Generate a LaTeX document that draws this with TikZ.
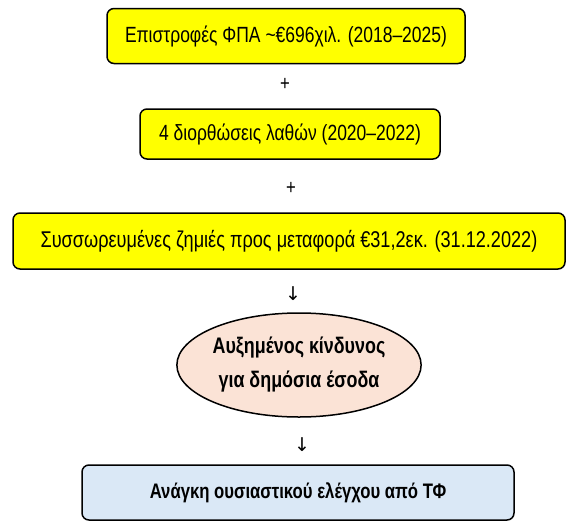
\documentclass[tikz,border=0pt]{standalone}
\usepackage{fontspec}
\setmainfont{Liberation Sans}[FakeStretch=0.795]
\newfontfamily\symfont{DejaVu Sans}
\usetikzlibrary{shapes.geometric}
\definecolor{yel}{HTML}{FFFF00}
\definecolor{peach}{HTML}{FBE3D6}
\definecolor{lblue}{HTML}{DAE8F6}
\begin{document}
\begin{tikzpicture}[x=1pt,y=-1pt,
  boxbase/.style={draw=black, line width=1.5pt, rounded corners=7pt, inner sep=0pt, align=center},
  ybox/.style={boxbase, fill=yel, font=\fontsize{22}{26}\selectfont},
  bbox/.style={boxbase, fill=lblue, font=\bfseries\fontsize{21}{25}\selectfont},
  oval/.style={ellipse, draw=black, line width=1.5pt, fill=peach, inner sep=0pt, align=center, font=\bfseries\fontsize{22.5}{34}\selectfont},
  sym/.style={inner sep=0pt, font=\fontsize{21}{24}\selectfont},
  arr/.style={inner sep=0pt, font=\symfont\fontsize{19}{22}\selectfont}]
\useasboundingbox (0,0) rectangle (567,522);
\node[ybox, minimum width=358pt, minimum height=55pt] (a) at (286,36) {Επιστροφές ΦΠΑ \textasciitilde€696χιλ. (2018–2025)};
\node[sym] (p1) at (285,84) {+};
\node[ybox, minimum width=300pt, minimum height=50pt] (b) at (290,134) {4 διορθώσεις λαθών (2020–2022)};
\node[sym] (p2) at (291,188) {+};
\node[ybox, minimum width=552pt, minimum height=56pt, font=\fontsize{22.8}{26}\selectfont] (c) at (289,241) {Συσσωρευμένες ζημιές προς μεταφορά €31,2εκ. (31.12.2022)};
\node[arr] (d1) at (293,294) {↓};
\node[oval, minimum width=238pt, minimum height=104pt] (e) at (299,365) {\raisebox{-3pt}{Αυξημένος κίνδυνος}\\\raisebox{-3pt}{για δημόσια έσοδα}};
\node[arr] (d2) at (302,445) {↓};
\node[bbox, minimum width=432pt, minimum height=55pt] (f) at (298,492.5) {Ανάγκη ουσιαστικού ελέγχου από ΤΦ};
\end{tikzpicture}
\end{document}
